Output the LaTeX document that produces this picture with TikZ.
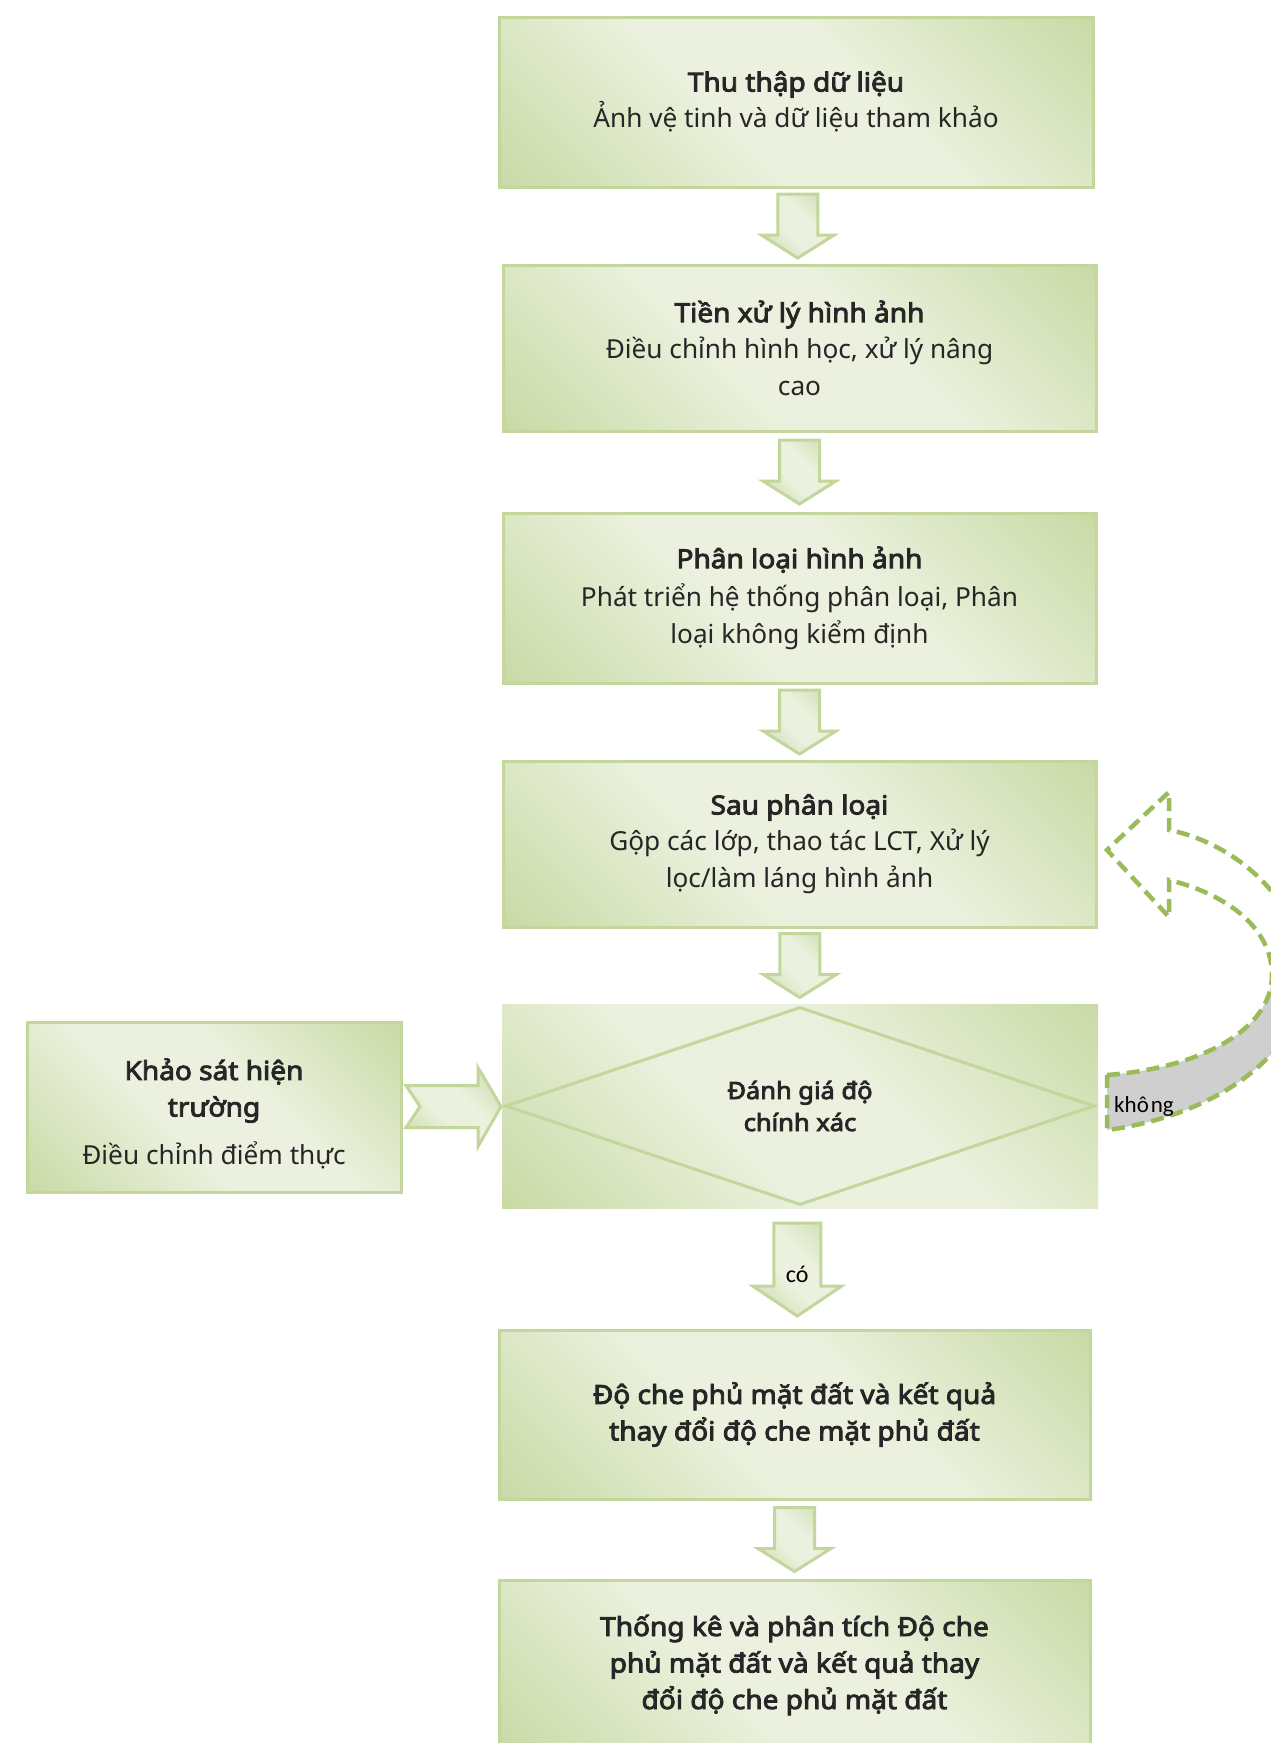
\documentclass[tikz,border=0pt]{standalone}
\usepackage{fontspec}
\setmainfont{Noto Sans}[BoldFont={Noto Sans}, BoldFeatures={FakeBold=3.4, FakeStretch=1.07}]
\newfontfamily\labelfont{Carlito}
\usetikzlibrary{calc,shapes.geometric}

\definecolor{gdark}{HTML}{C3D69B}
\definecolor{glight}{HTML}{EBF1DE}
\definecolor{gline}{HTML}{C3D69B}
\definecolor{gdash}{HTML}{9BBB59}
\definecolor{bandgrey}{HTML}{CFCFCF}
\definecolor{ink}{HTML}{262626}

% light band along one diagonal, darker towards the two other corners
\pgfdeclareverticalshading{greenband}{100bp}{%
  color(0bp)=(gdark); color(10bp)=(gdark); color(42bp)=(glight);
  color(58bp)=(glight); color(90bp)=(gdark); color(100bp)=(gdark)}

\tikzset{
  greenfill/.style={shading=greenband, shading angle=-45},
  box/.style={greenfill, draw=gline, line width=3pt, text=ink, align=center, inner sep=0pt,
    font=\fontsize{26.2pt}{36.5pt}\selectfont},
  boxtext/.style={text=ink, align=center, inner sep=0pt, font=\fontsize{26.2pt}{36.5pt}\selectfont},
  blockarrow/.style={greenfill, draw=gline, line width=3pt, line join=miter},
  labeltext/.style={text=black, inner sep=0pt, font=\labelfont\fontsize{24pt}{28pt}\selectfont},
  downarr/.pic={\path[blockarrow] (-20,-32) -- (20,-32) -- (20,9) -- (36.5,9) -- (0,32) -- (-36.5,9) -- (-20,9) -- cycle;},
  bigdownarr/.pic={\path[blockarrow] (-23.5,-46) -- (23.5,-46) -- (23.5,17) -- (44.5,17) -- (0,47) -- (-44.5,17) -- (-23.5,17) -- cycle;},
  chevronarr/.pic={\path[blockarrow] (-47.5,-21) -- (24.5,-21) -- (24.5,-39) -- (47.5,0) -- (24.5,40) -- (24.5,21) -- (-47.5,21) -- (-33.5,0) -- cycle;},
}

\begin{document}
\begin{tikzpicture}[x=1pt,y=-1pt]
\useasboundingbox (0,0) rectangle (1271,1743);
\fill[white] (0,0) rectangle (1271,1743);
\clip (0,0) rectangle (1271,1743);

% main column of process steps
\node[box, minimum width=594pt, minimum height=170pt] (b1) at (796,102)
  {\textbf{Thu thập dữ liệu}\\Ảnh vệ tinh và dữ liệu tham khảo};
\node[box, minimum width=593pt, minimum height=166pt] (b2) at (799.5,348)
  {\textbf{Tiền xử lý hình ảnh}\\Điều chỉnh hình học, xử lý nâng\\cao};
\node[box, minimum width=593pt, minimum height=170pt] (b3) at (799.5,598)
  {\textbf{Phân loại hình ảnh}\\[2pt]Phát triển hệ thống phân loại, Phân\\loại không kiểm định};
\node[box, minimum width=593pt, minimum height=166pt] (b4) at (799.5,844)
  {\textbf{Sau phân loại}\\Gộp các lớp, thao tác LCT, Xử lý\\lọc/làm láng hình ảnh};

% decision: shaded panel with a diamond outline on top
\node[box, draw=none, minimum width=596pt, minimum height=204pt] (dbg) at (800,1106) {};
\node[diamond, draw=gline, line width=3pt, minimum width=589pt, minimum height=198pt,
  inner sep=0pt, text=ink, align=center, font=\bfseries\fontsize{23.8pt}{32pt}\selectfont]
  (dia) at (dbg.center) {Đánh giá độ\\chính xác};

% field survey input
\node[box, minimum width=374pt, minimum height=170pt] (lb) at (214,1107) {};
\node[boxtext] (lbtext) at ($(lb.center)+(0,7)$)
  {\textbf{Khảo sát hiện}\\\textbf{trường}\\[12pt]Điều chỉnh điểm thực};

% results
\node[box, minimum width=591pt, minimum height=169pt] (b6) at (794.5,1414.5)
  {\textbf{Độ che phủ mặt đất và kết quả}\\\textbf{thay đổi độ che mặt phủ đất}};
\node[box, minimum width=591pt, minimum height=170pt] (b7) at (794.5,1665)
  {\textbf{Thống kê và phân tích Độ che}\\\textbf{phủ mặt đất và kết quả thay}\\\textbf{đổi độ che phủ mặt đất}};

% block arrows between steps
\pic at ($(b1.south)!.5!(b2.north)$) {downarr};
\pic at ($(b2.south)!.5!(b3.north)$) {downarr};
\pic at ($(b3.south)!.5!(b4.north)$) {downarr};
\pic at ($(b4.south)!.5!(dbg.north)$) {downarr};
\pic at ($(dbg.south)!.5!(b6.north)$) {bigdownarr};
\node[labeltext] (co) at ($(dbg.south)!.5!(b6.north)+(0,5)$) {có};
\pic at ($(b6.south)!.5!(b7.north)$) {downarr};
\pic at ($(lb.east)!.5!(dbg.west)+(2,0)$) {chevronarr};

% loop back for a failed check
\fill[bandgrey] (1107,1075) -- (1107,1130)
  .. controls (1220,1115) and (1305,1050) .. (1305,975) -- (1272,975)
  .. controls (1272,1030) and (1200,1068) .. (1107,1075) -- cycle;
\draw[gdash, line width=4.5pt, dash pattern=on 13pt off 7pt, line join=miter]
  (1107,1075) -- (1107,1130)
  .. controls (1220,1115) and (1305,1050) .. (1305,975)
  .. controls (1302,900) and (1235,843) .. (1169,830)
  -- (1169,792) -- (1107,850) -- (1169,917) -- (1169,880)
  .. controls (1230,895) and (1272,930) .. (1272,975)
  .. controls (1272,1030) and (1200,1068) .. (1107,1075) -- cycle;
\node[labeltext, anchor=west, font=\labelfont\fontsize{23pt}{27pt}\selectfont] (khong) at (1114,1106) {khô\kern2pt ng};
\end{tikzpicture}
\end{document}
